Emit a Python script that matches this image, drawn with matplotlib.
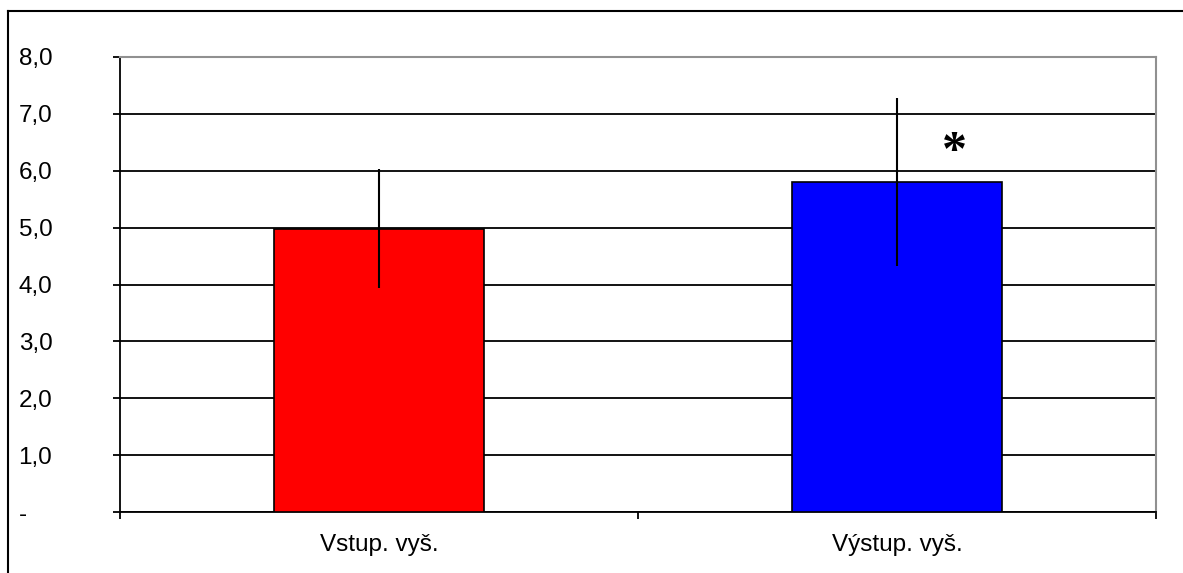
import matplotlib
matplotlib.use('Agg')
import matplotlib.pyplot as plt
from matplotlib.lines import Line2D
import numpy as np

# data
categories = ['Vstup. vyš.', 'Výstup. vyš.']
means = [4.98, 5.80]
errors = [1.05, 1.48]
colors = ['#ff0000', '#0000ff']
yticks = [0, 1, 2, 3, 4, 5, 6, 7, 8]
ylabels = ['-', '1,0', '2,0', '3,0', '4,0', '5,0', '6,0', '7,0', '8,0']
star_pos = (1.11, 6.31)

plt.rcParams['font.family'] = ['Liberation Sans', 'DejaVu Sans']

fig = plt.figure(figsize=(11.83, 5.73), dpi=100)
ax = fig.add_axes([120/1183, 1-512/573, (1156-120)/1183, (512-57)/573])

x = np.arange(len(categories))
ax.bar(x, means, width=0.405, color=colors, edgecolor='black', linewidth=1.2, zorder=3)
ax.errorbar(x, means, yerr=errors, fmt='none', ecolor='black', elinewidth=1.5, capsize=0, zorder=4)
ax.text(star_pos[0], star_pos[1], '*', ha='center', va='center', fontsize=36,
        fontweight='bold', family='Liberation Serif', zorder=5)

ax.set_xlim(-0.5, 1.5)
ax.set_ylim(0, 8)
ax.set_yticks(yticks)
ax.set_yticklabels(ylabels, fontsize=17.5, ha='left')
ax.tick_params(axis='y', direction='out', length=5, width=1.3, pad=68)
ax.set_xticks(x)
ax.set_xticklabels(categories, fontsize=17.5)
ax.tick_params(axis='x', which='major', length=0, pad=16)
ax.set_xticks([-0.5, 0.5, 1.5], minor=True)
ax.tick_params(axis='x', which='minor', direction='out', length=5, width=1.3)

ax.yaxis.grid(True, color='black', linewidth=1.3, zorder=0)
ax.set_axisbelow(True)
for s in ['left', 'bottom']:
    ax.spines[s].set_color('black')
    ax.spines[s].set_linewidth(1.3)
for s in ['top', 'right']:
    ax.spines[s].set_color('#909090')
    ax.spines[s].set_linewidth(1.5)

# outer border (chart frame)
fig.add_artist(Line2D([8/1183, 8/1183], [0, 1-11/573], color='black', lw=1.5, transform=fig.transFigure))
fig.add_artist(Line2D([8/1183, 1], [1-11/573, 1-11/573], color='black', lw=1.5, transform=fig.transFigure))

fig.savefig('out.png', dpi=100)
